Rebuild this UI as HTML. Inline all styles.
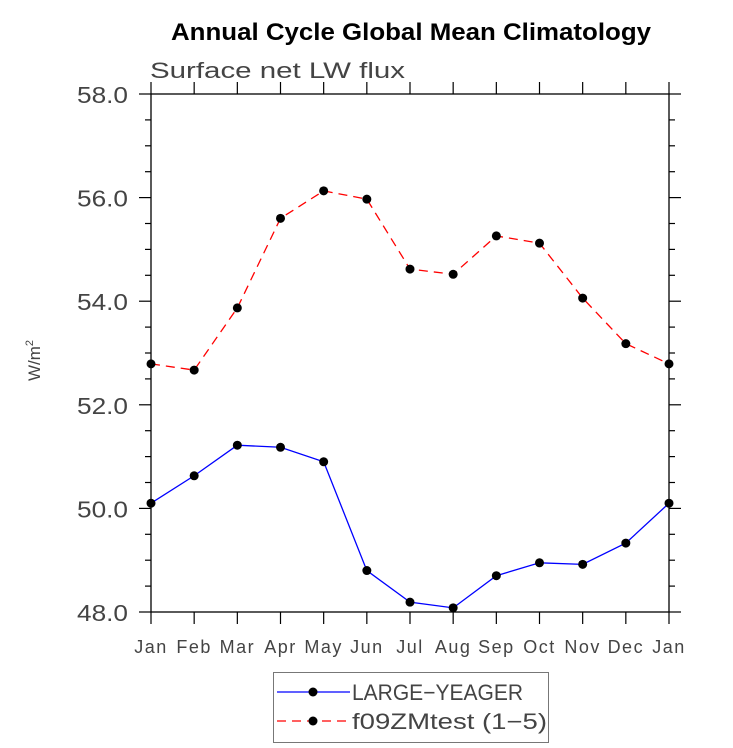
<!DOCTYPE html>
<html><head><meta charset="utf-8"><style>
body{margin:0;background:#fff;}
svg{display:block;font-family:"Liberation Sans",sans-serif;}
</style></head><body>
<svg id="chart" width="733" height="748">
<text x="171" y="40" textLength="480" lengthAdjust="spacingAndGlyphs" font-weight="bold" font-size="24">Annual Cycle Global Mean Climatology</text>
<text x="150" y="78" textLength="255" lengthAdjust="spacingAndGlyphs" font-size="22" fill="#444">Surface net LW flux</text>
<text transform="translate(40,381) rotate(-90)" font-size="17" fill="#444">W/m<tspan font-size="11" dy="-7">2</tspan></text>
<g id="axes"></g>
<g id="series"></g>
<g>
<rect x="273.5" y="672.5" width="275" height="70" fill="#fff" stroke="#777" stroke-width="1"/>
<line x1="277" y1="692" x2="350" y2="692" stroke="#00f" stroke-width="1.3"/>
<circle cx="313" cy="692" r="4.5" fill="#000"/>
<text x="352" y="700" textLength="171" lengthAdjust="spacingAndGlyphs" font-size="22" fill="#444">LARGE−YEAGER</text>
<line x1="277" y1="721" x2="350" y2="721" stroke="#f00" stroke-width="1.3" stroke-dasharray="9,6"/>
<circle cx="313" cy="721" r="4.5" fill="#000"/>
<text x="352" y="729" textLength="195" lengthAdjust="spacingAndGlyphs" font-size="22" fill="#444">f09ZMtest (1−5)</text>
</g>
</svg>
<script>
const months=["Jan","Feb","Mar","Apr","May","Jun","Jul","Aug","Sep","Oct","Nov","Dec","Jan"];
const largeYeager=[50.1,50.63,51.22,51.18,50.9,48.8,48.19,48.08,48.7,48.95,48.92,49.33,50.1];
const f09ZMtest=[52.79,52.67,53.87,55.6,56.13,55.97,54.62,54.52,55.26,55.12,54.06,53.18,52.79];
const yTicks=[48,50,52,54,56,58];
const yTickLabels=["48.0","50.0","52.0","54.0","56.0","58.0"];
const L=151,R=669,T=94,B=612,ymin=48,ymax=58;
const xs=i=>L+(R-L)*i/(months.length-1);
const ys=v=>B-(v-ymin)/(ymax-ymin)*(B-T);
const NS="http://www.w3.org/2000/svg";
function mk(t,a,p){const e=document.createElementNS(NS,t);for(const k in a)e.setAttribute(k,a[k]);p.appendChild(e);return e;}
const ax=document.getElementById('axes');
const frame=mk('rect',{x:L,y:T,width:R-L,height:B-T,fill:'none',stroke:'#000','stroke-width':1.3},ax);


months.forEach((m,i)=>{
  const x=xs(i);
  mk('line',{x1:x,y1:B,x2:x,y2:B+12,stroke:'#000','stroke-width':1.2},ax);
  mk('line',{x1:x,y1:T,x2:x,y2:T-12,stroke:'#000','stroke-width':1.2},ax);
  const t=mk('text',{x:x,y:B+41,'text-anchor':'middle','font-size':18,fill:'#444','letter-spacing':'1.5'},ax);
  t.textContent=m;
  
  
});
for(let v=ymin;v<=ymax+1e-9;v+=0.5){
  const y=ys(v),maj=Math.abs(v-Math.round(v/2)*2)<1e-9;
  const len=maj?12:6;
  mk('line',{x1:L,y1:y,x2:L-len,y2:y,stroke:'#000','stroke-width':1.2},ax);
  mk('line',{x1:R,y1:y,x2:R+len,y2:y,stroke:'#000','stroke-width':1.2},ax);
}
yTicks.forEach((v,i)=>{
  const t=mk('text',{x:77,y:ys(v)+9,'font-size':23,fill:'#444',textLength:51,lengthAdjust:'spacingAndGlyphs'},ax);
  t.textContent=yTickLabels[i];
  
  
});
const sg=document.getElementById('series');
function draw(vals,color,dash,name){
  const pl=mk('polyline',{points:vals.map((v,i)=>xs(i)+','+ys(v)).join(' '),fill:'none',stroke:color,'stroke-width':1.3},sg);
  if(dash)pl.setAttribute('stroke-dasharray',dash);
  
  
  vals.forEach((v,i)=>{
    const c=mk('circle',{cx:xs(i),cy:ys(v),r:4.5,fill:'#000'},sg);
    
    
  });
}
draw(largeYeager,'#00f',null,'large-yeager');
draw(f09ZMtest,'#f00','9,6','f09zmtest');
</script>
</body></html>
